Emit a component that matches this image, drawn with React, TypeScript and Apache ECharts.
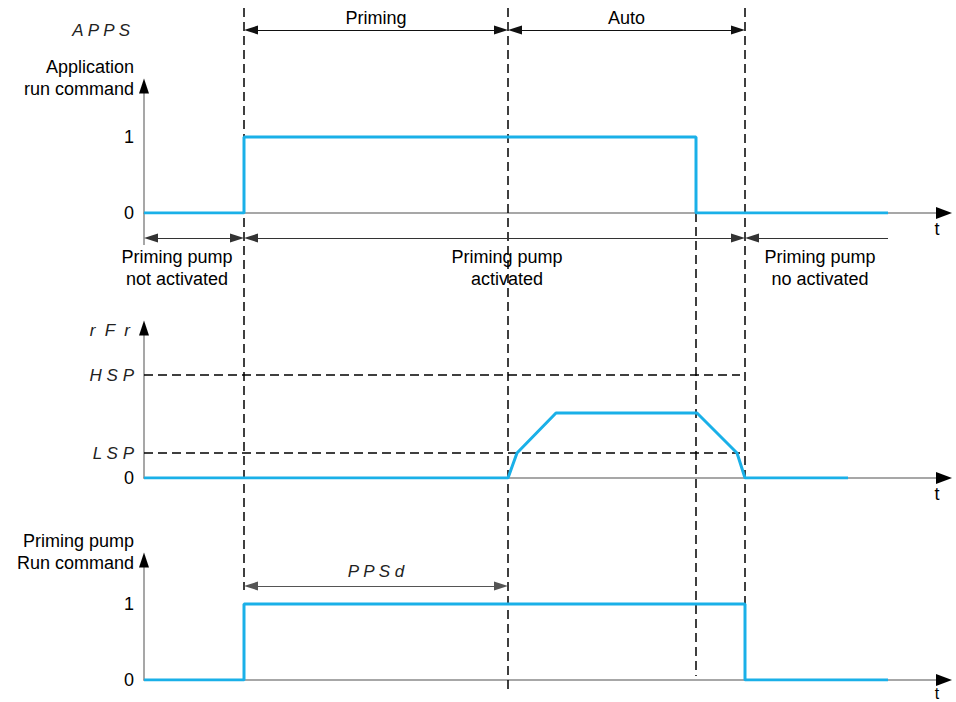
import { useEffect, useRef } from 'react';
import * as echarts from 'echarts';

// ---- data (time in arbitrary units, 0 = axis origin) ----
const phaseBounds = [1.0, 3.64, 6.01]; // Priming start, Priming end / Auto start, Auto end
const phaseNames = ['Priming', 'Auto'];
const appStopTime = 5.52;
const appRunTimes = [0, 1.0, 5.52, 7.44];
const appRunValues = [0, 1, 0, 0];
const binaryTicks = [0, 1];
const rfrTimes = [0, 3.64, 3.73, 4.12, 5.53, 5.93, 6.01, 7.04];
const rfrValues = [0, 0, 1, 2.6, 2.6, 1, 0, 0];
const speedTicks = [0, 1, 4.12];
const speedTickLabels = ['0', 'L S P', 'H S P'];
const speedLimitEnd = 5.96;
const pumpRunTimes = [0, 1.0, 6.01, 7.44];
const pumpRunValues = [0, 1, 0, 0];
const pumpStateBounds = [0, 1.0, 6.01, 7.44];
const pumpStateNames = ['Priming pump\nnot activated', 'Priming pump\nactivated', 'Priming pump\nno activated'];
const ppsdSpan = [1.0, 3.64];
const ppsdName = 'P P S d';

// ---- layout ----
const BLUE = '#1AB0E8';
const AXIS_GRAY = '#8a8a8a';
const FONT = '"Liberation Sans", Arial, sans-serif';
const X_MAX = 8;
const INSET = 0.07; // half arrow length in time units
const ROW_PHASE = 30;
const ROW_STATE = 238;
const ROW_PPSD = 586;
const ARROW_SIZE = [9, 14];

const pairs = (xs: number[], ys: number[]) => xs.map((x, i) => [x, ys[i]]);

export default function App() {
  const ref = useRef<HTMLDivElement>(null);
  useEffect(() => {
    if (!ref.current) return;
    const chart = echarts.init(ref.current, undefined, { renderer: 'svg' });

    const yMax = [1.67, 6, 1.58];
    const segRich = { s: { fontStyle: 'italic', fontSize: 17, color: '#222', fontFamily: FONT } };

    const axisLineStyle = { color: AXIS_GRAY, width: 1.5 };

    const xAxis = [0, 1, 2, 3].map((i) => ({
      gridIndex: i,
      type: 'value',
      min: 0,
      max: X_MAX,
      show: i < 3,
      axisLine: { show: true, onZero: false, lineStyle: axisLineStyle },
      axisTick: { show: false },
      axisLabel: { show: false },
      splitLine: { show: false },
    }));

    const baseY = (i: number, ticks: number[], fmt: (v: number) => string) => ({
      gridIndex: i,
      type: 'value',
      min: 0,
      max: yMax[i],
      axisLine: { show: true, onZero: false, lineStyle: axisLineStyle },
      axisTick: { show: false },
      splitLine: { show: false },
      axisLabel: {
        customValues: ticks,
        margin: 10,
        color: '#000',
        fontSize: 18,
        fontFamily: FONT,
        formatter: fmt,
        rich: segRich,
      },
    });

    const nearest = (arr: number[], v: number) => {
      let best = 0;
      arr.forEach((a, i) => {
        if (Math.abs(a - v) < Math.abs(arr[best] - v)) best = i;
      });
      return best;
    };

    const yAxis = [
      baseY(0, binaryTicks, (v) => String(Math.round(v))),
      baseY(1, speedTicks, (v) => {
        const idx = nearest(speedTicks, v);
        return idx === 0 ? speedTickLabels[0] : `{s|${speedTickLabels[idx]}}`;
      }),
      baseY(2, binaryTicks, (v) => String(Math.round(v))),
      { gridIndex: 3, type: 'value', min: 0, max: 702, inverse: true, show: false },
    ];

    const blueLine = (i: number, data: number[][], step: any) => ({
      type: 'line',
      xAxisIndex: i,
      yAxisIndex: i,
      step,
      data,
      showSymbol: false,
      symbol: 'none',
      silent: true,
      lineStyle: { color: BLUE, width: 3 },
      z: 6,
    });

    const arrowSeries = (i: number) => ({
      type: 'scatter',
      xAxisIndex: i,
      yAxisIndex: i,
      silent: true,
      clip: false,
      z: 7,
      itemStyle: { color: '#000', opacity: 1 },
      data: [
        { value: [0, yMax[i]], symbol: 'triangle', symbolSize: [10, 15] },
        { value: [X_MAX, 0], symbol: 'triangle', symbolSize: [12, 16], symbolRotate: -90 },
      ],
    });

    const dashed = { color: '#000', width: 1.5, type: [9, 5] as any };

    const middle = blueLine(1, pairs(rfrTimes, rfrValues), false) as any;
    middle.markLine = {
      silent: true,
      symbol: ['none', 'none'],
      label: { show: false },
      lineStyle: dashed,
      z: 4,
      data: speedTicks.slice(1).map((v) => [{ coord: [0, v] }, { coord: [speedLimitEnd, v] }]),
    };

    const verticals = [
      [phaseBounds[0], 8, 590],
      [phaseBounds[1], 8, 690],
      [appStopTime, 213, 676],
      [phaseBounds[2], 8, 604],
    ];

    const overlayBase = {
      type: 'line',
      xAxisIndex: 3,
      yAxisIndex: 3,
      data: [],
      silent: true,
      z: 5,
    };

    const arrowPair = (
      a: number,
      b: number,
      row: number,
      color: string,
      startSym: string,
      endSym: string,
      name?: string,
      labelStyle?: any
    ) => [
      {
        name,
        coord: [startSym === 'none' ? a : a + INSET, row],
        symbol: startSym,
        symbolSize: ARROW_SIZE,
        lineStyle: { color, width: 1.2, type: 'solid' },
        itemStyle: { color },
        label: name
          ? { show: true, position: 'middle', formatter: '{b}', ...labelStyle }
          : { show: false },
      },
      {
        coord: [endSym === 'none' ? b : b - INSET, row],
        symbol: endSym,
        symbolSize: ARROW_SIZE,
        itemStyle: { color },
      },
    ];

    const arrows = [
      ...phaseNames.map((n, i) =>
        arrowPair(phaseBounds[i], phaseBounds[i + 1], ROW_PHASE, '#111', 'triangle', 'triangle', n, {
          color: '#000', fontSize: 18, fontFamily: FONT, distance: 3,
        })
      ),
      arrowPair(pumpStateBounds[0], pumpStateBounds[1], ROW_STATE, '#333', 'triangle', 'triangle'),
      arrowPair(pumpStateBounds[1], pumpStateBounds[2], ROW_STATE, '#333', 'triangle', 'triangle'),
      arrowPair(pumpStateBounds[2], pumpStateBounds[3], ROW_STATE, '#333', 'triangle', 'none'),
      arrowPair(ppsdSpan[0], ppsdSpan[1], ROW_PPSD, '#555', 'triangle', 'triangle', ppsdName, {
        color: '#222', fontSize: 17, fontStyle: 'italic', fontFamily: FONT, distance: 6,
      }),
    ];

    const series: any[] = [
      blueLine(0, pairs(appRunTimes, appRunValues), 'end'),
      middle,
      blueLine(2, pairs(pumpRunTimes, pumpRunValues), 'end'),
      arrowSeries(0),
      arrowSeries(1),
      arrowSeries(2),
      {
        ...overlayBase,
        z: 4,
        markLine: {
          silent: true,
          symbol: ['none', 'none'],
          label: { show: false },
          lineStyle: dashed,
          data: verticals.map(([t, y0, y1]) => [{ coord: [t, y0] }, { coord: [t, y1] }]),
        },
      },
      {
        ...overlayBase,
        markLine: {
          silent: true,
          symbol: ['none', 'none'],
          label: { show: false },
          lineStyle: { color: AXIS_GRAY, width: 1.5, type: 'solid' },
          data: [[{ coord: [0, 213] }, { coord: [0, 245] }]],
        },
      },
      {
        ...overlayBase,
        markLine: {
          silent: true,
          symbol: ['triangle', 'triangle'],
          symbolSize: 12,
          label: { show: false },
          data: arrows,
        },
      },
    ];

    const txt = (text: string, x: number, y: number, align: string, extra: any = {}) => ({
      type: 'text',
      silent: true,
      z: 10,
      style: {
        text,
        x,
        y,
        align,
        textAlign: align,
        verticalAlign: 'middle',
        textVerticalAlign: 'middle',
        fill: '#000',
        font: `18px ${FONT}`,
        lineHeight: 22,
        ...extra,
      },
    });
    const seg = { fill: '#222', font: `italic 17px ${FONT}` };

    const graphic = [
      txt('A P P S', 130, 30, 'right', seg),
      txt('Application\nrun command', 134, 78, 'right'),
      txt(pumpStateNames[0], 177, 268, 'center'),
      txt(pumpStateNames[1], 507, 268, 'center'),
      txt(pumpStateNames[2], 820, 268, 'center'),
      txt('r  F  r', 130, 330, 'right', seg),
      txt('Priming pump\nRun command', 134, 552, 'right'),
      txt('t', 937, 229, 'center'),
      txt('t', 937, 494, 'center'),
      txt('t', 937, 693, 'center', { font: `16px ${FONT}` }),
    ];

    chart.setOption({
      animation: false,
      backgroundColor: '#fff',
      grid: [
        { left: 144, width: 800, top: 86, height: 127, outerBoundsMode: 'none' },
        { left: 144, width: 800, top: 328, height: 150, outerBoundsMode: 'none' },
        { left: 144, width: 800, top: 560, height: 120, outerBoundsMode: 'none' },
        { left: 144, width: 800, top: 0, height: 702, outerBoundsMode: 'none' },
      ],
      xAxis,
      yAxis,
      series,
      graphic,
    } as any);

    return () => chart.dispose();
  }, []);

  return (
    <div
      ref={ref}
      style={{ position: 'fixed', left: 0, top: 0, width: 956, height: 702, background: '#fff' }}
    />
  );
}
